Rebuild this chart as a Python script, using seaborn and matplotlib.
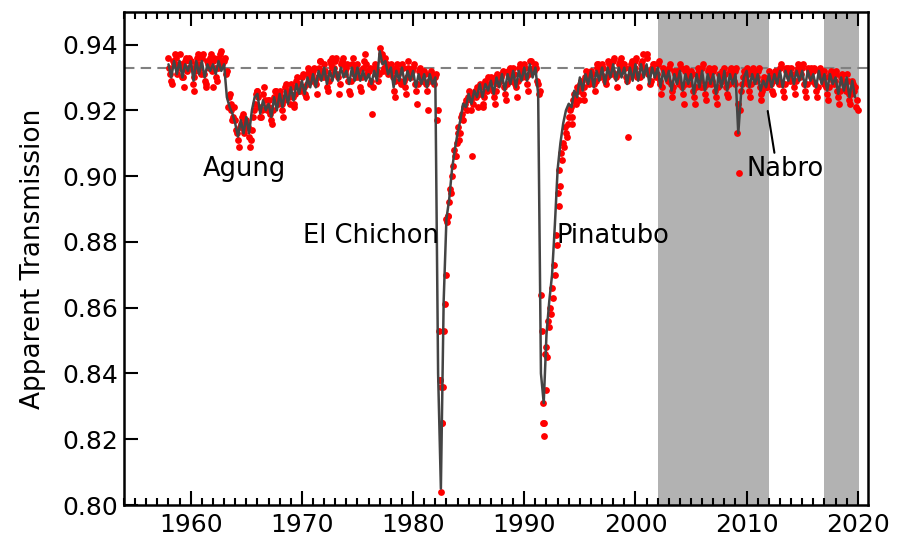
import numpy as np
import pandas as pd
import matplotlib
matplotlib.use('Agg')
import matplotlib.pyplot as plt
import seaborn as sns
from matplotlib.ticker import MultipleLocator, FormatStrFormatter

sns.set_theme(style='white')
plt.rcParams['font.family'] = ['DejaVu Sans']

# smoothed transmission, quarterly, starting 1958.00
line_1958_1969 = [
    0.934, 0.930, 0.935, 0.931,  0.935, 0.930, 0.934, 0.932,
    0.935, 0.929, 0.935, 0.931,  0.935, 0.930, 0.934, 0.932,
    0.934, 0.931, 0.935, 0.932,  0.934, 0.924, 0.921, 0.919,
    0.916, 0.912, 0.917, 0.913,  0.918, 0.913, 0.920, 0.924,
    0.925, 0.919, 0.923, 0.920,  0.922, 0.918, 0.924, 0.920,
    0.925, 0.921, 0.926, 0.922,  0.927, 0.923, 0.928, 0.925,
]
line_1970_1981 = [
    0.929, 0.925, 0.930, 0.927,  0.931, 0.927, 0.932, 0.929,
    0.933, 0.928, 0.932, 0.929,  0.933, 0.929, 0.933, 0.930,
    0.932, 0.928, 0.933, 0.929,  0.933, 0.929, 0.932, 0.929,
    0.931, 0.928, 0.932, 0.929,  0.938, 0.934, 0.935, 0.931,
    0.933, 0.927, 0.932, 0.929,  0.933, 0.928, 0.932, 0.929,
    0.932, 0.927, 0.931, 0.928,  0.931, 0.927, 0.931, 0.928,
]
line_1982_1993 = [
    0.930, 0.840, 0.805, 0.862,  0.887, 0.893, 0.902, 0.908,
    0.913, 0.917, 0.922, 0.921,  0.925, 0.922, 0.926, 0.924,
    0.928, 0.924, 0.928, 0.926,  0.929, 0.925, 0.930, 0.927,
    0.931, 0.926, 0.931, 0.928,  0.932, 0.927, 0.932, 0.929,
    0.933, 0.929, 0.934, 0.930,  0.933, 0.925, 0.840, 0.831,
    0.852, 0.862, 0.870, 0.885,  0.902, 0.910, 0.916, 0.920,
]
line_1994_2005 = [
    0.922, 0.921, 0.926, 0.924,  0.930, 0.926, 0.931, 0.928,
    0.932, 0.927, 0.932, 0.929,  0.933, 0.928, 0.933, 0.930,
    0.934, 0.929, 0.933, 0.930,  0.933, 0.928, 0.933, 0.929,
    0.934, 0.929, 0.934, 0.930,  0.934, 0.928, 0.933, 0.930,
    0.933, 0.927, 0.932, 0.929,  0.932, 0.926, 0.931, 0.928,
    0.932, 0.926, 0.931, 0.928,  0.931, 0.925, 0.931, 0.927,
]
line_2006_2019 = [
    0.932, 0.926, 0.931, 0.928,  0.931, 0.925, 0.931, 0.927,
    0.932, 0.926, 0.931, 0.928,  0.931, 0.913, 0.925, 0.930,
    0.932, 0.927, 0.931, 0.928,  0.931, 0.926, 0.929, 0.927,
    0.931, 0.927, 0.931, 0.928,  0.932, 0.927, 0.932, 0.929,
    0.932, 0.928, 0.932, 0.929,  0.932, 0.927, 0.932, 0.929,
    0.931, 0.927, 0.932, 0.928,  0.931, 0.926, 0.931, 0.928,
    0.930, 0.925, 0.930, 0.926,  0.930, 0.924, 0.929, 0.924,
]

# individual observations, six per year, starting 1958.00
dots_1958_1969 = [
    0.936, 0.931, 0.928, 0.934, 0.936, 0.933,
    0.937, 0.933, 0.930, 0.935, 0.932, 0.936,
    0.935, 0.928, 0.926, 0.934, 0.937, 0.933,
    0.936, 0.931, 0.927, 0.935, 0.933, 0.937,
    0.935, 0.933, 0.929, 0.936, 0.937, 0.934,
    0.935, 0.931, 0.921, 0.925, 0.922, 0.918,
    0.917, 0.913, 0.909, 0.916, 0.919, 0.914,
    0.917, 0.915, 0.909, 0.914, 0.920, 0.925,
    0.926, 0.921, 0.918, 0.925, 0.923, 0.920,
    0.923, 0.919, 0.916, 0.924, 0.926, 0.922,
    0.926, 0.922, 0.918, 0.927, 0.925, 0.924,
    0.928, 0.924, 0.921, 0.929, 0.927, 0.926,
]
dots_1970_1981 = [
    0.930, 0.927, 0.924, 0.931, 0.932, 0.929,
    0.932, 0.929, 0.925, 0.933, 0.935, 0.931,
    0.934, 0.930, 0.926, 0.935, 0.933, 0.931,
    0.935, 0.931, 0.925, 0.934, 0.936, 0.932,
    0.933, 0.929, 0.925, 0.934, 0.931, 0.930,
    0.934, 0.930, 0.926, 0.933, 0.937, 0.931,
    0.932, 0.928, 0.919, 0.933, 0.931, 0.929,
    0.939, 0.937, 0.932, 0.936, 0.934, 0.932,
    0.934, 0.930, 0.924, 0.933, 0.931, 0.929,
    0.934, 0.929, 0.925, 0.933, 0.932, 0.930,
    0.933, 0.928, 0.922, 0.932, 0.930, 0.931,
    0.932, 0.928, 0.920, 0.931, 0.930, 0.929,
]
dots_1982_1993 = [
    0.930, 0.917, 0.853, 0.804, 0.836, 0.861,
    0.887, 0.888, 0.896, 0.900, 0.908, 0.906,
    0.913, 0.911, 0.918, 0.917, 0.922, 0.920,
    0.926, 0.923, 0.906, 0.925, 0.924, 0.921,
    0.928, 0.925, 0.921, 0.929, 0.926, 0.927,
    0.930, 0.926, 0.922, 0.930, 0.928, 0.929,
    0.931, 0.927, 0.923, 0.932, 0.930, 0.929,
    0.933, 0.928, 0.924, 0.933, 0.931, 0.930,
    0.934, 0.930, 0.926, 0.935, 0.932, 0.933,
    0.934, 0.929, 0.925, 0.864, 0.831, 0.846,
    0.848, 0.856, 0.860, 0.866, 0.873, 0.882,
    0.895, 0.902, 0.907, 0.910, 0.915, 0.912,
]
dots_1994_2005 = [
    0.918, 0.921, 0.916, 0.925, 0.922, 0.926,
    0.928, 0.927, 0.923, 0.930, 0.931, 0.928,
    0.932, 0.929, 0.926, 0.933, 0.934, 0.930,
    0.934, 0.930, 0.928, 0.935, 0.932, 0.931,
    0.935, 0.931, 0.927, 0.934, 0.936, 0.932,
    0.934, 0.930, 0.912, 0.933, 0.935, 0.931,
    0.935, 0.930, 0.927, 0.934, 0.937, 0.932,
    0.936, 0.931, 0.928, 0.933, 0.934, 0.930,
    0.934, 0.929, 0.925, 0.933, 0.932, 0.930,
    0.933, 0.928, 0.924, 0.932, 0.930, 0.929,
    0.934, 0.927, 0.922, 0.932, 0.930, 0.928,
    0.932, 0.926, 0.922, 0.931, 0.933, 0.929,
]
dots_2006_2020 = [
    0.933, 0.927, 0.923, 0.932, 0.930, 0.928,
    0.932, 0.926, 0.922, 0.931, 0.929, 0.930,
    0.933, 0.927, 0.924, 0.932, 0.931, 0.929,
    0.932, 0.913, 0.901, 0.926, 0.930, 0.931,
    0.933, 0.928, 0.924, 0.932, 0.930, 0.929,
    0.932, 0.927, 0.923, 0.929, 0.928, 0.927,
    0.932, 0.928, 0.925, 0.931, 0.930, 0.929,
    0.933, 0.928, 0.924, 0.933, 0.931, 0.930,
    0.933, 0.929, 0.925, 0.932, 0.934, 0.930,
    0.933, 0.928, 0.924, 0.933, 0.931, 0.930,
    0.932, 0.928, 0.924, 0.932, 0.930, 0.929,
    0.932, 0.927, 0.923, 0.931, 0.930, 0.928,
    0.931, 0.926, 0.922, 0.930, 0.929, 0.927,
    0.931, 0.925, 0.922, 0.929, 0.926, 0.921,
    0.920,
]

# second set of observations, six per year, starting 1958 + 1/12
dots_b_1958_1969 = [
    0.933, 0.929, 0.935, 0.937, 0.931, 0.934,
    0.934, 0.930, 0.927, 0.936, 0.933, 0.935,
    0.933, 0.930, 0.932, 0.936, 0.934, 0.931,
    0.937, 0.929, 0.928, 0.934, 0.936, 0.932,
    0.936, 0.930, 0.933, 0.935, 0.938, 0.935,
    0.936, 0.932, 0.924, 0.920, 0.917, 0.921,
    0.914, 0.911, 0.915, 0.918, 0.913, 0.917,
    0.916, 0.912, 0.911, 0.918, 0.922, 0.926,
    0.924, 0.918, 0.920, 0.927, 0.921, 0.923,
    0.921, 0.917, 0.920, 0.926, 0.923, 0.925,
    0.924, 0.920, 0.923, 0.928, 0.926, 0.922,
    0.927, 0.922, 0.925, 0.930, 0.928, 0.927,
]
dots_b_1970_1981 = [
    0.931, 0.925, 0.928, 0.933, 0.930, 0.931,
    0.933, 0.928, 0.930, 0.935, 0.932, 0.930,
    0.932, 0.927, 0.929, 0.934, 0.936, 0.933,
    0.936, 0.930, 0.928, 0.935, 0.934, 0.931,
    0.934, 0.926, 0.929, 0.936, 0.933, 0.932,
    0.932, 0.927, 0.930, 0.935, 0.934, 0.932,
    0.933, 0.929, 0.927, 0.934, 0.932, 0.931,
    0.937, 0.935, 0.933, 0.934, 0.931, 0.933,
    0.932, 0.926, 0.929, 0.934, 0.932, 0.928,
    0.933, 0.927, 0.930, 0.935, 0.931, 0.932,
    0.934, 0.926, 0.928, 0.933, 0.931, 0.929,
    0.931, 0.926, 0.929, 0.932, 0.930, 0.928,
]
dots_b_1982_1993 = [
    0.931, 0.920, 0.838, 0.825, 0.853, 0.870,
    0.886, 0.892, 0.895, 0.903, 0.906, 0.910,
    0.915, 0.913, 0.919, 0.921, 0.923, 0.924,
    0.924, 0.920, 0.922, 0.926, 0.927, 0.925,
    0.927, 0.922, 0.924, 0.928, 0.930, 0.928,
    0.929, 0.924, 0.926, 0.931, 0.929, 0.930,
    0.932, 0.925, 0.928, 0.931, 0.933, 0.930,
    0.931, 0.927, 0.929, 0.934, 0.932, 0.931,
    0.933, 0.928, 0.931, 0.935, 0.933, 0.932,
    0.933, 0.928, 0.926, 0.853, 0.825, 0.835,
    0.845, 0.854, 0.858, 0.863, 0.870, 0.879,
    0.891, 0.897, 0.905, 0.909, 0.913, 0.916,
]
dots_b_1994_2005 = [
    0.920, 0.918, 0.923, 0.924, 0.927, 0.923,
    0.929, 0.925, 0.927, 0.932, 0.929, 0.930,
    0.931, 0.928, 0.929, 0.934, 0.932, 0.931,
    0.933, 0.929, 0.930, 0.934, 0.933, 0.932,
    0.936, 0.930, 0.931, 0.935, 0.933, 0.934,
    0.933, 0.929, 0.930, 0.934, 0.932, 0.933,
    0.936, 0.931, 0.930, 0.935, 0.933, 0.932,
    0.937, 0.932, 0.929, 0.934, 0.932, 0.931,
    0.935, 0.928, 0.927, 0.932, 0.931, 0.929,
    0.934, 0.926, 0.927, 0.931, 0.932, 0.928,
    0.933, 0.925, 0.928, 0.933, 0.931, 0.930,
    0.931, 0.924, 0.927, 0.930, 0.932, 0.927,
]
dots_b_2006_2019 = [
    0.934, 0.925, 0.928, 0.933, 0.931, 0.929,
    0.933, 0.924, 0.927, 0.930, 0.932, 0.929,
    0.931, 0.925, 0.928, 0.933, 0.930, 0.928,
    0.933, 0.922, 0.920, 0.928, 0.932, 0.929,
    0.931, 0.926, 0.928, 0.933, 0.931, 0.930,
    0.933, 0.925, 0.926, 0.930, 0.927, 0.929,
    0.930, 0.926, 0.929, 0.932, 0.931, 0.928,
    0.934, 0.926, 0.928, 0.932, 0.933, 0.929,
    0.931, 0.927, 0.929, 0.933, 0.932, 0.931,
    0.934, 0.926, 0.928, 0.932, 0.933, 0.929,
    0.933, 0.926, 0.927, 0.933, 0.931, 0.928,
    0.930, 0.925, 0.927, 0.932, 0.929, 0.929,
    0.932, 0.924, 0.926, 0.931, 0.928, 0.926,
    0.929, 0.923, 0.925, 0.928, 0.927, 0.923,
]

# a few extra readings around the eruptions
extra_year = [1982.45, 1982.55, 1982.60, 1991.70, 1991.75, 1983.10, 1962.00]
extra_val = [0.838, 0.836, 0.825, 0.825, 0.821, 0.888, 0.927]

baseline = 0.933
shade_periods = [(2002.0, 2012.0), (2017.0, 2020.1)]

labels = ['Agung', 'El Chichon', 'Pinatubo', 'Nabro']
label_x = [1961.1, 1970.1, 1992.9, 2010.0]
label_y = [0.9022, 0.8819, 0.8819, 0.9022]

line_vals = line_1958_1969 + line_1970_1981 + line_1982_1993 + line_1994_2005 + line_2006_2019
dot_vals = dots_1958_1969 + dots_1970_1981 + dots_1982_1993 + dots_1994_2005 + dots_2006_2020
dot_b_vals = dots_b_1958_1969 + dots_b_1970_1981 + dots_b_1982_1993 + dots_b_1994_2005 + dots_b_2006_2019

df_line = pd.DataFrame({'year': 1958 + np.arange(len(line_vals)) / 4, 'trans': line_vals})
df_dots = pd.DataFrame({
    'year': np.concatenate([1958 + np.arange(len(dot_vals)) / 6,
                            1958 + 1 / 12 + np.arange(len(dot_b_vals)) / 6,
                            extra_year]),
    'trans': dot_vals + dot_b_vals + extra_val,
})

fig = plt.figure(figsize=(9.02, 5.36), dpi=100)
ax = fig.add_axes([0.1375, 0.0578, 0.8252, 0.9204])

for a, b in shade_periods:
    ax.axvspan(a, b, color='#b2b2b2', lw=0, zorder=0)

ax.axhline(baseline, color='#808080', ls=(0, (5, 3)), lw=1.5, zorder=1)

sns.scatterplot(data=df_dots, x='year', y='trans', ax=ax, color='red', s=24,
                linewidth=0, zorder=2)
sns.lineplot(data=df_line, x='year', y='trans', ax=ax, color='#444444', lw=1.8,
             zorder=3)

for txt, x, y in zip(labels, label_x, label_y):
    ax.text(x, y, txt, fontsize=18.5, ha='left', va='center', color='black', zorder=4)
ax.plot([2011.9, 2012.5], [0.9198, 0.9071], color='black', lw=1.5, zorder=4)

ax.set_xlim(1954, 2020.95)
ax.set_ylim(0.80, 0.95)
ax.xaxis.set_major_locator(MultipleLocator(10))
ax.xaxis.set_minor_locator(MultipleLocator(1))
ax.yaxis.set_major_formatter(FormatStrFormatter('%.2f'))
ax.set_yticks(np.arange(0.80, 0.945, 0.02))

ax.tick_params(axis='x', which='both', direction='in', top=True, bottom=True,
               width=1.5, labelsize=18, pad=6, colors='black')
ax.tick_params(axis='x', which='major', length=10)
ax.tick_params(axis='x', which='minor', length=5)
ax.tick_params(axis='y', which='major', direction='in', left=True, right=False,
               length=10, width=1.5, labelsize=18, pad=4, colors='black')

for sp in ax.spines.values():
    sp.set_color('black')
    sp.set_linewidth(1.8)

ax.set_xlabel('')
ax.set_ylabel('Apparent Transmission', fontsize=19, labelpad=12, color='black')

fig.savefig('out.png', dpi=100)
